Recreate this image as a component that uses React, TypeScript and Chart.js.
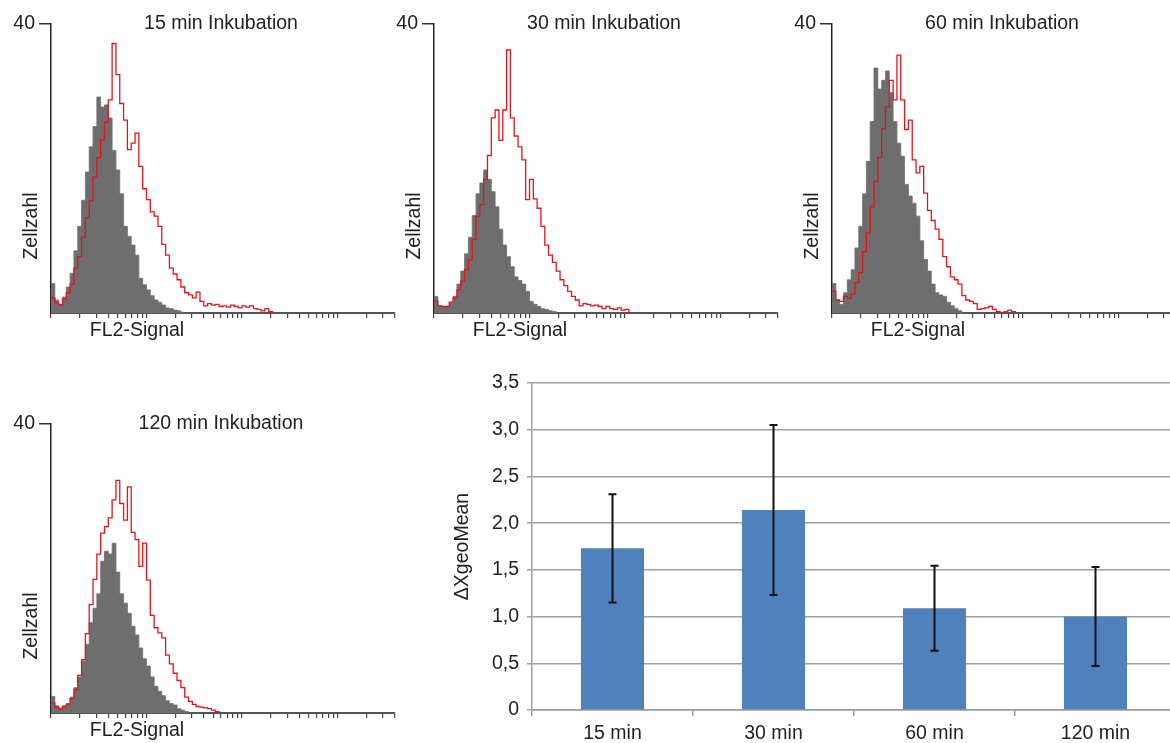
import React, { useEffect, useRef } from 'react';
import { Chart, registerables } from 'chart.js';

Chart.register(...registerables);

const FONT = '"Liberation Sans", Arial, sans-serif';
const TEXT = '#222222';

// ---- Histogram data (FL2 channel bins, 0.04 decade per bin, cell counts) ----
const BIN_WIDTH = 0.04;
const AXIS_MAX_DECADES = Math.log10(4000);

const HIST_TITLES = ['15 min Inkubation', '30 min Inkubation', '60 min Inkubation', '120 min Inkubation'];
const Y_AXIS_LABEL = 'Zellzahl';
const X_AXIS_LABEL = 'FL2-Signal';
const Y_MAX_LABEL = 40;

const HIST15_SAMPLE = [2.1, 1.4, 1.1, 1.9, 2.8, 4.0, 6.2, 7.8, 10.5, 13.2, 15.5, 18.8, 21.5, 24.0, 26.4, 29.5, 37.3, 33.0, 29.0, 26.7, 22.6, 23.5, 24.9, 20.3, 17.2, 15.7, 14.0, 13.4, 12.0, 9.5, 8.0, 6.2, 5.4, 4.6, 3.6, 2.8, 2.5, 2.1, 2.9, 1.6, 1.0, 1.3, 1.1, 1.2, 0.9, 1.0, 0.8, 1.1, 0.9, 0.7, 1.0, 0.8, 1.0, 0.6, 0.5, 0.3, 0.6, 0.2, 0];
const HIST15_CONTROL = [4.1, 1.8, 1.2, 2.2, 3.6, 5.5, 8.6, 12.0, 15.6, 19.5, 23.0, 25.8, 29.9, 28.5, 28.8, 27.0, 22.5, 19.8, 16.5, 12.0, 10.6, 9.4, 8.0, 4.8, 3.9, 3.2, 2.4, 1.8, 1.5, 1.1, 0.7, 0.6, 0.4, 0.3, 0.1, 0];

const HIST30_SAMPLE = [1.6, 1.0, 0.9, 0.9, 1.5, 2.1, 3.2, 4.4, 6.0, 7.4, 10.2, 13.4, 15.0, 18.5, 21.8, 27.0, 28.1, 23.9, 28.1, 36.4, 27.0, 24.5, 23.0, 21.2, 15.7, 18.5, 15.8, 14.5, 12.0, 9.4, 8.0, 7.0, 5.8, 4.6, 3.8, 3.0, 2.3, 1.8, 1.0, 1.3, 1.2, 1.0, 1.1, 0.9, 0.6, 0.9, 0.6, 0.5, 0.7, 0.4, 0.5, 0];
const HIST30_CONTROL = [2.3, 1.0, 0.9, 0.9, 1.4, 2.3, 4.0, 5.8, 8.2, 10.5, 13.5, 16.5, 18.0, 19.8, 18.5, 16.8, 14.7, 11.6, 9.4, 7.8, 6.4, 5.0, 4.5, 4.0, 3.0, 1.6, 1.2, 0.9, 0.6, 0.5, 0.3, 0.2, 0];

const HIST60_SAMPLE = [3.0, 1.8, 1.6, 2.3, 2.1, 2.6, 4.2, 5.6, 8.5, 11.1, 14.7, 18.2, 21.5, 25.5, 28.5, 32.2, 29.5, 35.7, 29.5, 25.4, 26.7, 21.2, 19.4, 20.3, 16.6, 14.2, 12.8, 11.6, 10.2, 7.8, 6.4, 5.0, 4.6, 4.0, 2.4, 1.8, 1.6, 1.3, 0.5, 0.6, 0.7, 0.9, 0.5, 0.2, 0, 0.2, 0.4, 0.2, 0];
const HIST60_CONTROL = [4.1, 1.8, 1.2, 2.8, 4.6, 6.0, 9.0, 12.0, 16.5, 21.0, 26.5, 33.9, 31.0, 32.2, 33.5, 30.5, 26.5, 23.5, 21.7, 17.8, 16.2, 15.2, 13.4, 10.0, 7.4, 5.8, 4.0, 2.8, 2.5, 2.3, 1.5, 1.0, 0.6, 0.3, 0];

const HIST120_SAMPLE = [1.4, 0.8, 0.5, 0.9, 1.2, 2.0, 3.2, 5.2, 7.4, 11.0, 15.0, 18.5, 22.0, 24.9, 25.8, 27.0, 29.5, 32.2, 29.0, 26.7, 31.3, 25.0, 24.0, 20.3, 23.5, 18.4, 13.5, 11.8, 11.1, 10.4, 8.0, 6.8, 5.5, 4.5, 3.5, 2.2, 1.6, 1.2, 0.9, 0.8, 0.7, 0.6, 0.4, 0.2, 0];
const HIST120_CONTROL = [2.3, 1.0, 0.7, 1.0, 1.3, 2.2, 3.5, 5.0, 7.2, 9.5, 12.5, 14.5, 16.5, 21.0, 22.4, 22.0, 23.5, 19.5, 16.5, 15.2, 13.8, 12.0, 10.8, 9.0, 7.5, 6.5, 5.0, 3.7, 3.0, 2.4, 1.7, 1.3, 1.1, 0.6, 0.4, 0.2, 0];

// ---- Bar chart data ----
const BAR_LABELS = ['15 min', '30 min', '60 min', '120 min'];
const BAR_VALUES = [1.73, 2.14, 1.09, 1.0];
const BAR_ERRORS = [0.58, 0.91, 0.455, 0.53];
const BAR_Y_TITLE = 'ΔXgeoMean';

// log-decade tick positions for the FL2 axis
const LOG_TICKS: number[] = [];
for (let n = 0; n < 4; n++) {
  for (let k = 1; k <= 9; k++) {
    const v = n + Math.log10(k);
    if (v <= AXIS_MAX_DECADES + 1e-9) LOG_TICKS.push(v);
  }
}

type TextItem = { text: string; dx: number; dy: number; fromBottom?: boolean; rotate?: boolean; size: number };

function makeTextPlugin(items: TextItem[]) {
  return {
    id: 'panelText',
    afterDraw(chart: any) {
      const { ctx, chartArea } = chart;
      for (const it of items) {
        ctx.save();
        ctx.font = `${it.size}px ${FONT}`;
        ctx.fillStyle = TEXT;
        ctx.textAlign = 'center';
        ctx.textBaseline = 'middle';
        const x = chartArea.left + it.dx;
        const y = (it.fromBottom ? chartArea.bottom : chartArea.top) + it.dy;
        ctx.translate(x, y);
        if (it.rotate) ctx.rotate(-Math.PI / 2);
        ctx.fillText(it.text, 0, 0);
        ctx.restore();
      }
    },
  };
}

function histConfig(title: string, sample: number[], control: number[]) {
  const toPts = (arr: number[]) => arr.map((y, i) => ({ x: i * BIN_WIDTH, y }));
  return {
    type: 'line',
    data: {
      datasets: [
        {
          data: toPts(sample),
          stepped: 'before',
          borderColor: '#e3151c',
          borderWidth: 1.3,
          pointRadius: 0,
          fill: false,
        },
        {
          data: toPts(control),
          stepped: 'before',
          borderColor: '#6e6e6e',
          borderWidth: 0.8,
          backgroundColor: '#6e6e6e',
          pointRadius: 0,
          fill: 'origin',
        },
      ],
    },
    options: {
      responsive: false,
      animation: false,
      layout: { padding: { left: 0, top: 24, right: 5, bottom: 24 } },
      plugins: { legend: { display: false }, tooltip: { enabled: false } },
      scales: {
        x: {
          type: 'linear',
          min: 0,
          max: AXIS_MAX_DECADES,
          afterBuildTicks: (s: any) => {
            s.ticks = LOG_TICKS.map((v) => ({ value: v }));
          },
          afterFit: (s: any) => {
            s.height = 8;
          },
          ticks: { autoSkip: false, callback: () => '', font: { size: 1 } },
          grid: { drawOnChartArea: false, drawTicks: true, tickLength: 5, color: '#444444', lineWidth: 1.2 },
          border: { display: true, color: '#555555', width: 2 },
        },
        y: {
          min: 0,
          max: 40,
          afterBuildTicks: (s: any) => {
            s.ticks = [{ value: Y_MAX_LABEL }];
          },
          afterFit: (s: any) => {
            s.width = 51;
          },
          ticks: { font: { family: FONT, size: 19.5 }, color: TEXT, padding: 4 },
          grid: { drawOnChartArea: false, tickLength: 12, color: '#333333', lineWidth: 1.5 },
          border: { display: true, color: '#222222', width: 1.5 },
        },
      },
    },
    plugins: [
      makeTextPlugin([
        { text: title, dx: 170, dy: 0, size: 19.5 },
        { text: Y_AXIS_LABEL, dx: -19, dy: -87, fromBottom: true, rotate: true, size: 19.5 },
        { text: X_AXIS_LABEL, dx: 86, dy: 18, fromBottom: true, size: 19.5 },
      ]),
    ],
  };
}

const errorBarPlugin = {
  id: 'errorBars',
  afterDatasetsDraw(chart: any) {
    const { ctx } = chart;
    const meta = chart.getDatasetMeta(0);
    const yScale = chart.scales.y;
    ctx.save();
    ctx.strokeStyle = '#111111';
    ctx.lineWidth = 2;
    meta.data.forEach((bar: any, i: number) => {
      const v = BAR_VALUES[i];
      const e = BAR_ERRORS[i];
      const yTop = yScale.getPixelForValue(v + e);
      const yBot = yScale.getPixelForValue(v - e);
      const x = bar.x;
      ctx.beginPath();
      ctx.moveTo(x, yTop);
      ctx.lineTo(x, yBot);
      ctx.moveTo(x - 4, yTop);
      ctx.lineTo(x + 4, yTop);
      ctx.moveTo(x - 4, yBot);
      ctx.lineTo(x + 4, yBot);
      ctx.stroke();
    });
    ctx.restore();
  },
};

function barConfig() {
  const font = { family: FONT, size: 19.5 };
  return {
    type: 'bar',
    data: {
      labels: BAR_LABELS,
      datasets: [
        {
          data: BAR_VALUES,
          backgroundColor: '#4f81bd',
          barPercentage: 0.4,
          categoryPercentage: 0.98,
        },
      ],
    },
    options: {
      responsive: false,
      animation: false,
      layout: { padding: { left: 0, top: 23, right: 4, bottom: 3 } },
      plugins: { legend: { display: false }, tooltip: { enabled: false } },
      scales: {
        x: {
          grid: { drawOnChartArea: false, offset: true, tickLength: 6, color: '#9a9a9a', lineWidth: 1.5 },
          border: { display: true, color: '#9a9a9a', width: 1.5 },
          ticks: { font, color: TEXT, padding: 6 },
          afterFit: (s: any) => {
            s.height = 30;
          },
        },
        y: {
          min: 0,
          max: 3.5,
          ticks: {
            stepSize: 0.5,
            font,
            color: TEXT,
            padding: 8,
            callback: (v: any) => (v === 0 ? '0' : Number(v).toFixed(1).replace('.', ',')),
          },
          grid: { color: '#a0a0a0', lineWidth: 1.5, tickLength: 5 },
          border: { display: true, color: '#a0a0a0', width: 1.5 },
          title: { display: true, text: BAR_Y_TITLE, font, color: TEXT, padding: { top: 11, bottom: 0 } },
          afterFit: (s: any) => {
            s.width = 92;
          },
        },
      },
    },
    plugins: [errorBarPlugin],
  };
}

function ChartBox({ left, top, width, height, make }: { left: number; top: number; width: number; height: number; make: () => any }) {
  const ref = useRef<HTMLCanvasElement | null>(null);
  useEffect(() => {
    if (!ref.current) return;
    const chart = new Chart(ref.current, make());
    return () => chart.destroy();
  }, []);
  return (
    <div style={{ position: 'absolute', left, top, width, height }}>
      <canvas ref={ref} width={width} height={height} style={{ width, height, display: 'block' }} />
    </div>
  );
}

export default function App() {
  return (
    <div style={{ position: 'absolute', left: 0, top: 0, width: 1170, height: 743, overflow: 'hidden', background: '#ffffff' }}>
      <ChartBox left={0} top={0} width={400} height={345} make={() => histConfig(HIST_TITLES[0], HIST15_SAMPLE, HIST15_CONTROL)} />
      <ChartBox left={383} top={0} width={400} height={345} make={() => histConfig(HIST_TITLES[1], HIST30_SAMPLE, HIST30_CONTROL)} />
      <ChartBox left={781} top={0} width={400} height={345} make={() => histConfig(HIST_TITLES[2], HIST60_SAMPLE, HIST60_CONTROL)} />
      <ChartBox left={0} top={400} width={400} height={345} make={() => histConfig(HIST_TITLES[3], HIST120_SAMPLE, HIST120_CONTROL)} />
      <ChartBox left={440} top={360} width={740} height={383} make={barConfig} />
    </div>
  );
}
